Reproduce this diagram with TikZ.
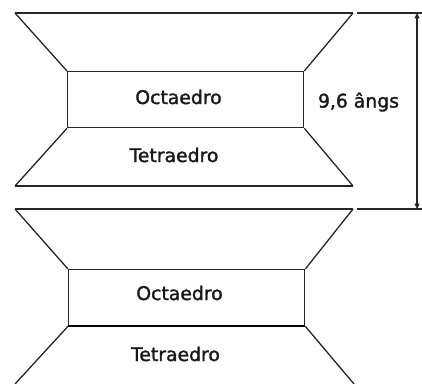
\documentclass[tikz,border=0pt]{standalone}
\usepackage{fontspec}
\newfontfamily\lblfont{DejaVu Sans}[BoldFont=DejaVu Sans,BoldFeatures={FakeBold=1.6}]
\usetikzlibrary{arrows.meta}
\begin{document}
\begin{tikzpicture}[x=1pt,y=-1pt,
  edge/.style={draw=black!85,line width=1.3pt},
  lbl/.style={font=\lblfont\bfseries\fontsize{18.8}{20}\selectfont,text=black!90,inner sep=0pt},
  dim/.style={draw=black!85,line width=1.2pt,{Straight Barb[length=4pt,width=4pt]}-{Straight Barb[length=4pt,width=4pt]}}]
\useasboundingbox (0,0) rectangle (422,383);
% unit 1
\coordinate (a1) at (15,13); \coordinate (b1) at (353,13);
\coordinate (c1) at (15,186); \coordinate (d1) at (353,186);
\node[edge,minimum width=236pt,minimum height=56pt,inner sep=0pt,anchor=north west] (oct1) at (67,71) {};
\draw[edge] (a1) -- (b1) (c1) -- (d1);
\draw[edge] (a1) -- (oct1.north west) (b1) -- (oct1.north east);
\draw[edge] (oct1.south west) -- (c1) (oct1.south east) -- (d1);
\node[lbl] (o1) at (178.5,97) {Octaedro};
\node[lbl] (t1) at (174,155) {Tetraedro};
% unit 2
\coordinate (a2) at (15,209); \coordinate (b2) at (353,209);
\coordinate (c2) at (15,384); \coordinate (d2) at (354,384);
\node[edge,minimum width=236pt,minimum height=56pt,inner sep=0pt,anchor=north west] (oct2) at (68,269) {};
\draw[edge] (a2) -- (b2);
\draw[edge] (a2) -- (oct2.north west) (b2) -- (oct2.north east);
\draw[edge] (oct2.south west) -- (c2) (oct2.south east) -- (d2);
\draw[draw=black,line width=2pt] (oct2.south west) -- (oct2.south east);
\node[lbl] (o2) at (179.5,293) {Octaedro};
\node[lbl] (t2) at (175.5,354) {Tetraedro};
% dimension
\coordinate (e1) at (357,13); \coordinate (f1) at (422,13);
\coordinate (e2) at (357,209); \coordinate (f2) at (422,209);
\coordinate (v1) at (417,13); \coordinate (v2) at (417,209);
\draw[edge,line width=1.2pt] (e1) -- (f1) (e2) -- (f2);
\draw[dim] (v1) -- (v2);
\node[lbl] (dl) at (358.5,102) {9,6 ângs};
\end{tikzpicture}
\end{document}
